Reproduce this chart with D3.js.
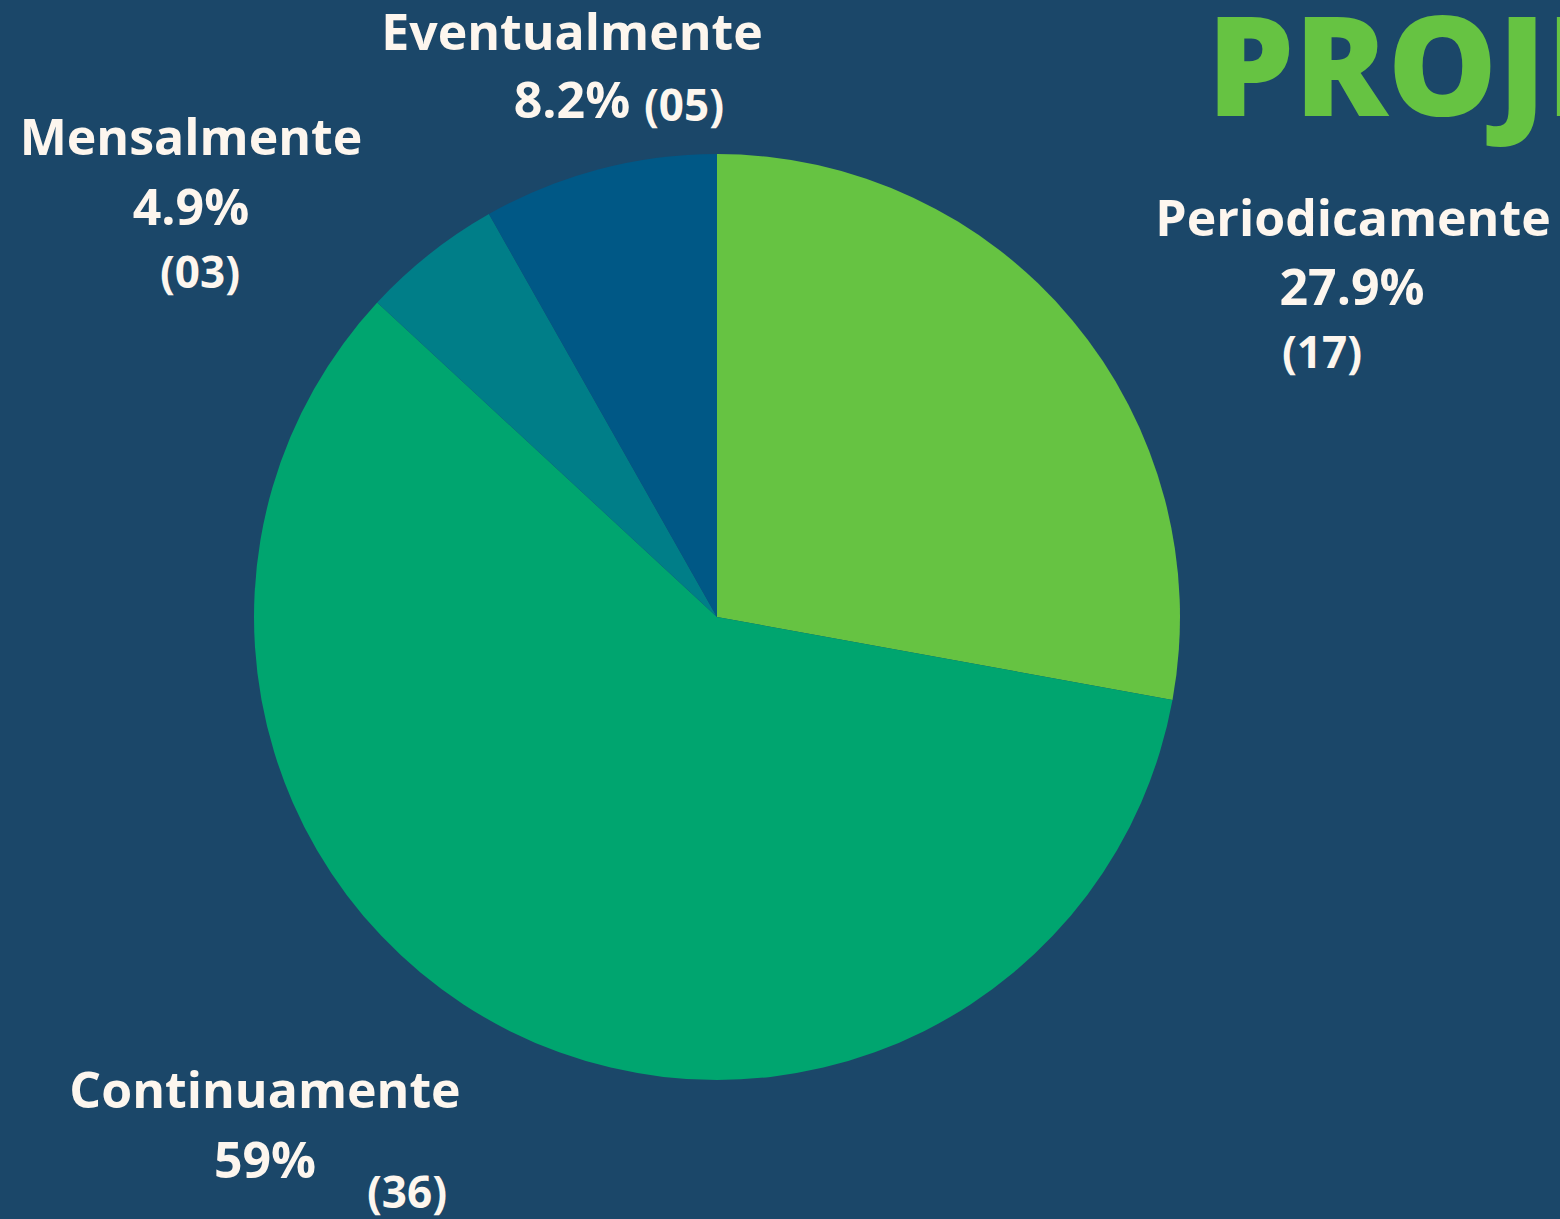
<!DOCTYPE html>
<html>
<head>
<meta charset="utf-8">
<script src="https://cdn.jsdelivr.net/npm/d3@7"></script>
<style>
  html, body { margin: 0; padding: 0; background: #1b4769; overflow: hidden; }
  svg { display: block; }
</style>
</head>
<body>
<div id="grafico"></div>
<script>
const WIDTH = 1560
const HEIGHT = 1219

const categorias = ['Periodicamente', 'Continuamente', 'Mensalmente', 'Eventualmente']
const valores = [17, 36, 3, 5]
const percentuais = ['27.9%', '59%', '4.9%', '8.2%']
const contagens = ['(17)', '(36)', '(03)', '(05)']
const cores = ['#66c342', '#00a56f', '#007e88', '#005886']

// posições dos rótulos (nome, percentual, contagem)
const LABELS = [
  { nome: [1353, 236], pct: [1352, 305], cnt: [1322, 368] },
  { nome: [265, 1108], pct: [265, 1178], cnt: [407, 1208] },
  { nome: [191, 155], pct: [191, 225], cnt: [200, 288] },
  { nome: [572, 50], pct: [572, 118], cnt: [684, 121] }
]

const svg = d3.select('#grafico')
  .append('svg')
  .attr('width', WIDTH)
  .attr('height', HEIGHT)

svg.append('rect')
  .attr('width', WIDTH)
  .attr('height', HEIGHT)
  .attr('fill', '#1b4769')

const cx = 717
const cy = 617
const raio = 463

const pie = d3.pie().sort(null).value(d => d)
const arc = d3.arc().innerRadius(0).outerRadius(raio)

svg.append('g')
  .attr('transform', `translate(${cx},${cy})`)
  .selectAll('path')
  .data(pie(valores))
  .join('path')
  .attr('d', arc)
  .attr('fill', (d, i) => cores[i])

const fonte = '"Open Sans", sans-serif'
const corTexto = '#fdf6ee'

const g = svg.append('g')
  .style('font-family', fonte)
  .attr('fill', corTexto)
  .attr('text-anchor', 'middle')

categorias.forEach((c, i) => {
  const p = LABELS[i]
  g.append('text')
    .attr('x', p.nome[0]).attr('y', p.nome[1])
    .style('font-size', '50px').style('font-weight', 700)
    .text(c)
  g.append('text')
    .attr('x', p.pct[0]).attr('y', p.pct[1])
    .style('font-size', '50px').style('font-weight', 700)
    .text(percentuais[i])
  g.append('text')
    .attr('x', p.cnt[0]).attr('y', p.cnt[1])
    .style('font-size', '44px').style('font-weight', 700)
    .text(contagens[i])
})

svg.append('text')
  .attr('x', 1207)
  .attr('y', 116)
  .style('font-family', fonte)
  .style('font-size', '138px')
  .style('font-weight', 800)
  .attr('fill', '#66c342')
  .text('PROJETOS')
</script>
</body>
</html>
